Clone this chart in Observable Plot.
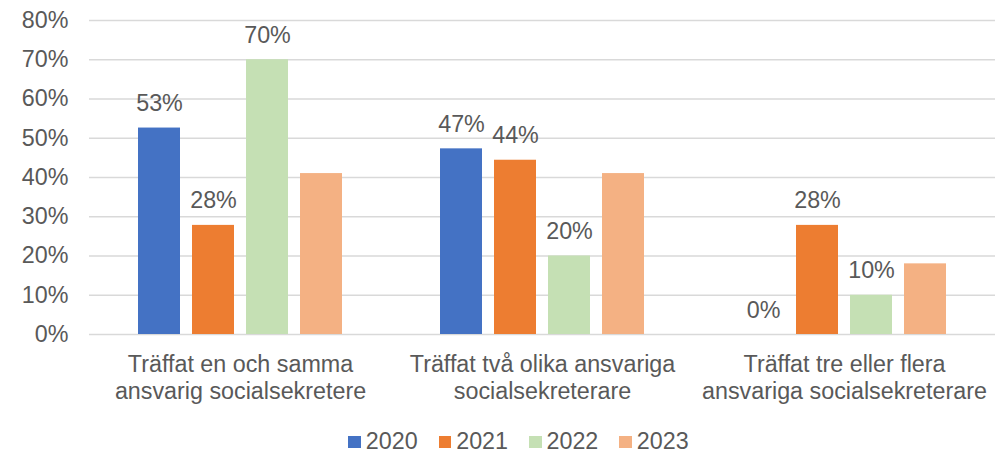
<!DOCTYPE html>
<html>
<head>
<meta charset="utf-8">
<script src="https://cdn.jsdelivr.net/npm/d3@7"></script>
<script src="https://cdn.jsdelivr.net/npm/@observablehq/plot@0.6"></script>
<style>
  html, body { margin: 0; padding: 0; background: #fff; }
  body { width: 1000px; height: 453px; overflow: hidden; font-family: "Liberation Sans", Arial, sans-serif; }
  #legend { display: flex; justify-content: center; align-items: center; box-sizing: border-box; height: 41px; padding-top: 17px; padding-left: 37px; font-size: 23.3px; color: #595959; }
  .item { display: flex; align-items: center; margin-right: 21px; }
  .item:last-child { margin-right: 0; }
  .sw { width: 12.5px; height: 12.5px; margin-right: 5px; margin-top: 2px; }
</style>
</head>
<body>
<div id="chart"></div>
<div id="legend"></div>
<script>
const categories = [
  "Träffat en och samma\nansvarig socialsekretere",
  "Träffat två olika ansvariga\nsocialsekreterare",
  "Träffat tre eller flera\nansvariga socialsekreterare"
];
const years = ["2020", "2021", "2022", "2023"];
const colors = ["#4472C4", "#ED7D31", "#C5E0B4", "#F4B183"];
const v2020 = [52.6, 47.3, 0];
const v2021 = [27.8, 44.4, 27.8];
const v2022 = [70, 20, 10];
const v2023 = [41, 41, 18];
const labeledYears = ["2020", "2021", "2022"];
const yTicks = [0, 10, 20, 30, 40, 50, 60, 70, 80];

const series = [v2020, v2021, v2022, v2023];
const data = [];
categories.forEach((c, i) => {
  years.forEach((y, j) => data.push({category: c, year: y, value: series[j][i]}));
});

const textColor = "#595959";
const fs = 23.3;

const chart = Plot.plot({
  width: 1000,
  height: 412,
  marginTop: 20,
  marginBottom: 78,
  marginLeft: 88,
  marginRight: 5,
  style: {fontFamily: '"Liberation Sans", Arial, sans-serif', fontSize: fs + "px", color: textColor, background: "#fff"},
  fx: {domain: categories, padding: 0, label: null},
  x: {domain: years, paddingInner: 0.218, paddingOuter: 0.857, axis: null},
  y: {domain: [0, 80], label: null},
  color: {domain: years, range: colors},
  marks: [
    Plot.gridY(yTicks, {stroke: "#d9d9d9", strokeOpacity: 1, strokeWidth: 1.3}),
    Plot.barY(data, {fx: "category", x: "year", y: "value", fill: "year"}),
    Plot.text(data.filter(d => labeledYears.includes(d.year)), {
      fx: "category", x: "year", y: "value",
      text: d => Math.round(d.value) + "%",
      lineAnchor: "bottom", dy: -17, fill: textColor, fontSize: fs
    }),
    Plot.axisY(yTicks, {tickSize: 0, tickPadding: 21, tickFormat: d => d + "%", fill: textColor, fontSize: fs, label: null}),
    Plot.axisFx({anchor: "bottom", tickSize: 0, tickPadding: 18, lineHeight: 1.17, fill: textColor, fontSize: fs, label: null})
  ]
});
document.getElementById("chart").appendChild(chart);

const legend = document.getElementById("legend");
years.forEach((y, i) => {
  const item = document.createElement("div");
  item.className = "item";
  const sw = document.createElement("div");
  sw.className = "sw";
  sw.style.background = colors[i];
  const t = document.createElement("span");
  t.textContent = y;
  item.appendChild(sw);
  item.appendChild(t);
  legend.appendChild(item);
});
</script>
</body>
</html>
